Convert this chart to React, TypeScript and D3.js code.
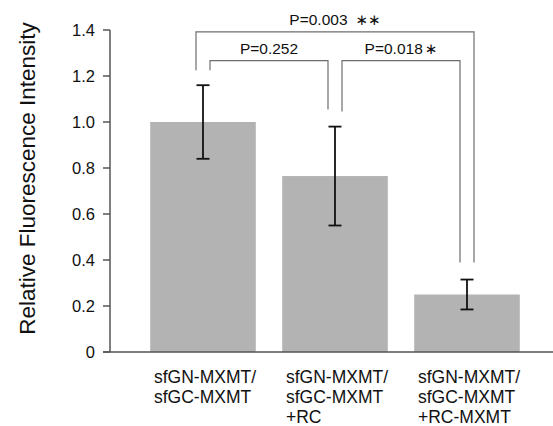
import React from "react";
import * as d3 from "d3";

// bar values
const categories = ["A", "B", "C"];
const labelLines = [
  ["sfGN-MXMT/", "sfGC-MXMT"],
  ["sfGN-MXMT/", "sfGC-MXMT", "+RC"],
  ["sfGN-MXMT/", "sfGC-MXMT", "+RC-MXMT"],
];
const means = [1.0, 0.765, 0.25];
const errLow = [0.84, 0.55, 0.185];
const errHigh = [1.16, 0.98, 0.315];
const yTicks = [0, 0.2, 0.4, 0.6, 0.8, 1.0, 1.2, 1.4];

// significance brackets
const bracketFrom = [0, 0, 1];
const bracketTo = [1, 2, 2];
const bracketLevel = [1.267, 1.392, 1.267];
const bracketText = ["P=0.252", "P=0.003", "P=0.018"];
const bracketStars = ["", "∗∗", "∗"];

const W = 553;
const H = 426;
const FONT = "'Liberation Sans', Arial, Helvetica, sans-serif";

export default function App() {
  const x = d3
    .scaleBand<string>()
    .domain(categories)
    .range([137, 533])
    .paddingInner(0.2)
    .paddingOuter(0.1);
  const y = d3.scaleLinear().domain([0, 1.4]).range([352, 30]);
  const cx = (i: number) => (x(categories[i]) as number) + x.bandwidth() / 2;
  const capHalf = 6.5;

  return (
    <svg
      width={W}
      height={H}
      style={{ position: "absolute", left: 0, top: 0, display: "block" }}
      fontFamily={FONT}
    >
      <rect width={W} height={H} fill="#fff" />

      {/* bars */}
      {categories.map((c, i) => (
        <rect
          key={c}
          x={x(c)}
          y={y(means[i])}
          width={x.bandwidth()}
          height={y(0) - y(means[i])}
          fill="#b3b3b3"
        />
      ))}

      {/* error bars */}
      {categories.map((c, i) => (
        <g key={"e" + c} stroke="#111" strokeWidth={1.8}>
          <line x1={cx(i)} x2={cx(i)} y1={y(errHigh[i])} y2={y(errLow[i])} />
          <line x1={cx(i) - capHalf} x2={cx(i) + capHalf} y1={y(errHigh[i])} y2={y(errHigh[i])} />
          <line x1={cx(i) - capHalf} x2={cx(i) + capHalf} y1={y(errLow[i])} y2={y(errLow[i])} />
        </g>
      ))}

      {/* y axis */}
      <g stroke="#555" strokeWidth={1.5}>
        <line x1={110} x2={110} y1={y(1.4)} y2={y(0)} />
        {yTicks.map((t) => (
          <line key={t} x1={103} x2={110} y1={y(t)} y2={y(t)} />
        ))}
      </g>
      {yTicks.map((t) => (
        <text
          key={"l" + t}
          x={95}
          y={y(t) + 5.5}
          textAnchor="end"
          fontSize={16.5}
          fill="#111"
        >
          {t === 0 ? "0" : d3.format(".1f")(t)}
        </text>
      ))}
      <text
        transform={`translate(35,178.5) rotate(-90)`}
        textAnchor="middle"
        fontSize={22.5}
        fill="#111"
      >
        Relative Fluorescence Intensity
      </text>

      {/* x axis */}
      <line x1={103} x2={W} y1={y(0)} y2={y(0)} stroke="#555" strokeWidth={1.5} />
      {categories.map((c, i) => (
        <text key={"c" + c} fontSize={17.5} fill="#111">
          {labelLines[i].map((ln, k) => (
            <tspan key={k} x={cx(i) - 49} y={383 + k * 20}>
              {ln}
            </tspan>
          ))}
        </text>
      ))}

      {/* brackets */}
      {bracketFrom.map((a, k) => {
        const b = bracketTo[k];
        const off = b - a > 1 ? -7 : 7;
        const x1 = cx(a) + off;
        const x2 = cx(b) - off;
        const yt = y(bracketLevel[k]);
        const ya = y(errHigh[a]) - 15;
        const yb = y(errHigh[b]) - 17;
        return (
          <g key={"b" + k}>
            <path
              d={`M${x1},${ya}V${yt}H${x2}V${yb}`}
              fill="none"
              stroke="#6e6e6e"
              strokeWidth={1.2}
            />
            <text
              x={(x1 + x2) / 2}
              y={yt - 7}
              textAnchor="middle"
              fontSize={15.5}
              fill="#111"
            >
              {bracketText[k]}
              {bracketStars[k] && (
                <tspan fontFamily="'DejaVu Sans'" fontSize={15} dx={bracketStars[k].length > 1 ? 8 : 2}>
                  {bracketStars[k]}
                </tspan>
              )}
            </text>
          </g>
        );
      })}
    </svg>
  );
}
